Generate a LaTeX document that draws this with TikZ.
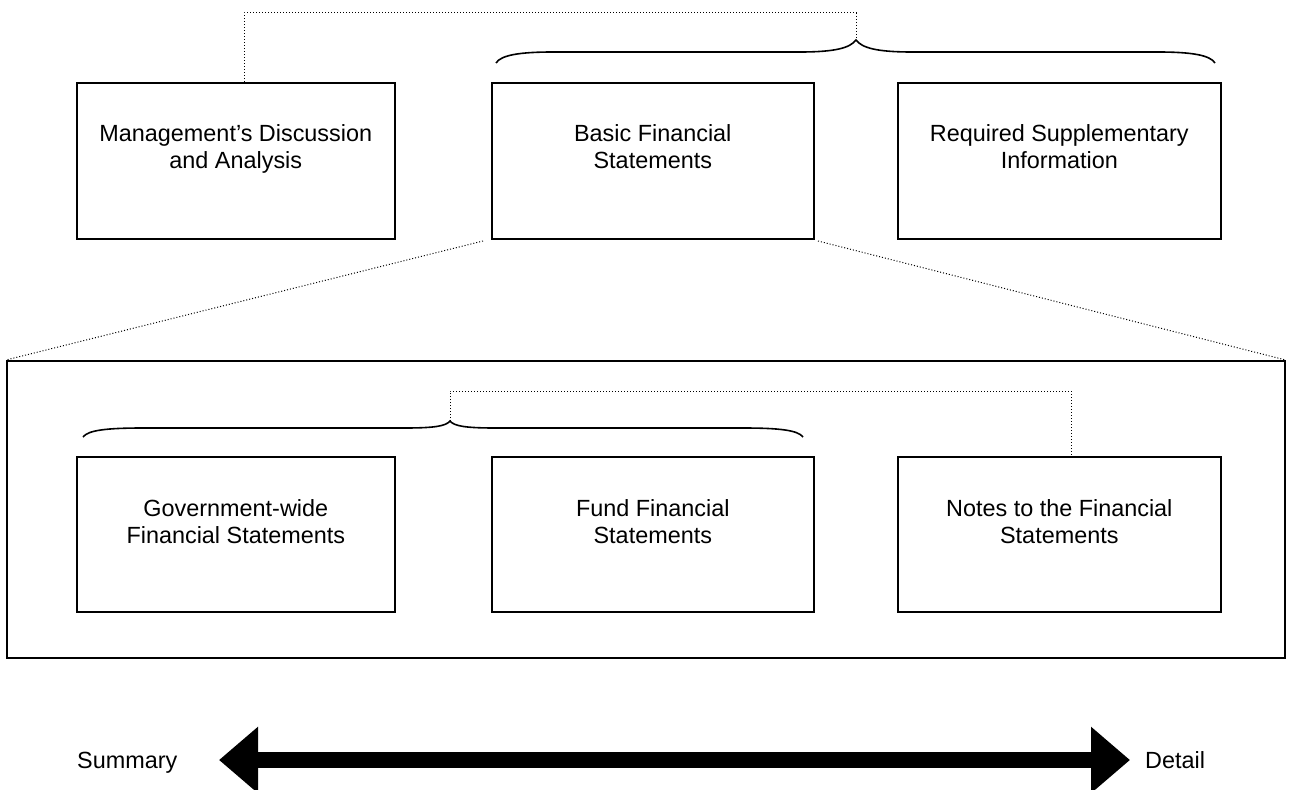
\documentclass[tikz,border=0pt]{standalone}
\usepackage{fontspec}
\setmainfont{Liberation Sans}
\usetikzlibrary{arrows.meta}
\begin{document}
\begin{tikzpicture}[x=1pt,y=-1pt,
  box/.style={draw, line width=1.6pt, inner sep=0pt, anchor=north west},
  lbl/.style={font=\fontsize{23.4}{27}\selectfont, align=center, anchor=base, inner sep=0pt},
  conn/.style={line width=1pt, dash pattern=on 1pt off 2pt},
  brace/.style={line width=1.6pt},
  bigarrow/.style={line width=16pt, {Triangle[length=39pt,width=64pt]}-{Triangle[length=39pt,width=64pt]}}]
\useasboundingbox (0,0) rectangle (1289,789);
% boxes
\node[box, minimum width=318, minimum height=156] (mda) at (76,82) {};
\node[box, minimum width=322, minimum height=156] (bfs) at (491,82) {};
\node[box, minimum width=323, minimum height=156] (rsi) at (897,82) {};
\node[box, minimum width=1278, minimum height=297] (outer) at (6,360) {};
\node[box, minimum width=318, minimum height=155] (gw) at (76,456) {};
\node[box, minimum width=322, minimum height=155] (fund) at (491,456) {};
\node[box, minimum width=323, minimum height=155] (notes) at (897,456) {};
% labels (base = last line)
\node[lbl] (mdat) at ([yshift=-86pt]mda.north) {Management’s Discussion\\and Analysis};
\node[lbl] (bfst) at ([yshift=-86pt]bfs.north) {Basic Financial\\Statements};
\node[lbl] (rsit) at ([yshift=-86pt]rsi.north) {Required Supplementary\\Information};
\node[lbl] (gwt) at ([yshift=-87pt]gw.north) {Government-wide\\Financial Statements};
\node[lbl] (fundt) at ([yshift=-87pt]fund.north) {Fund Financial\\Statements};
\node[lbl] (notest) at ([yshift=-87pt]notes.north) {Notes to the Financial\\Statements};
% braces
\coordinate (tb) at (856,40);
\coordinate (lb) at (450,421);
\draw[brace] (496,63) .. controls (501,55) and (520,52) .. (553,52) -- (800,52)
  .. controls (835,52) and (850,48) .. (tb)
  .. controls (862,48) and (877,52) .. (912,52) -- (1158,52)
  .. controls (1191,52) and (1210,55) .. (1215,63);
\draw[brace] (83,437) .. controls (88,430) and (108,428) .. (143,428) -- (405,428)
  .. controls (435,428) and (446,426) .. (lb)
  .. controls (454,426) and (465,428) .. (495,428) -- (743,428)
  .. controls (778,428) and (798,430) .. (803,437);
% dotted connectors
\coordinate (mdtop) at (244,82);
\coordinate (notestop) at (1071,456);
\draw[conn] (mdtop) -- ++(0,-69) -| (tb);
\draw[conn] (lb) -- ++(0,-30) -| (notestop);
\coordinate (bfsl) at (483,241);
\coordinate (bfsr) at (818,241);
\draw[conn] (bfsl) -- (outer.north west);
\draw[conn] (bfsr) -- (outer.north east);
% summary / detail arrow
\node[font=\fontsize{23.4}{27}\selectfont, anchor=base west, inner sep=0pt] (sum) at (77,768) {Summary};
\node[font=\fontsize{23.4}{27}\selectfont, anchor=base west, inner sep=0pt] (det) at (1145,768) {Detail};
\coordinate (al) at (219,760);
\coordinate (ar) at (1130,760);
\draw[bigarrow] (al) -- (ar);
\end{tikzpicture}
\end{document}
